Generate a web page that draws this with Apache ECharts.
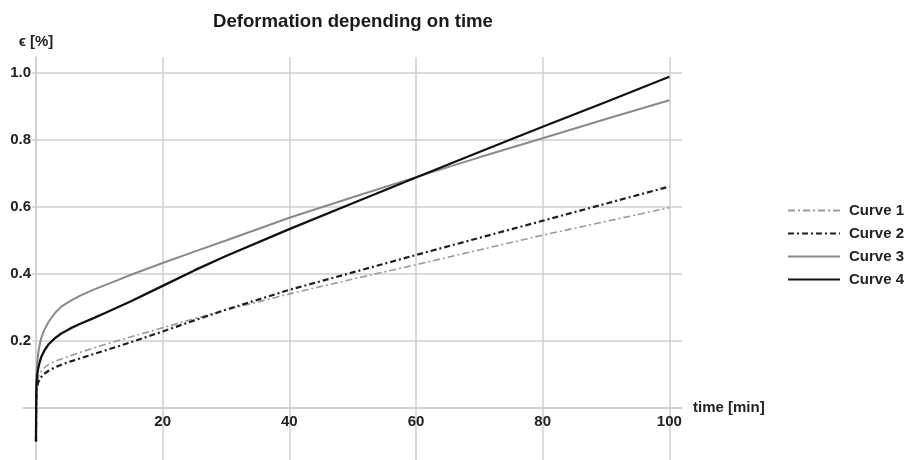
<!DOCTYPE html>
<html>
<head>
<meta charset="utf-8">
<script src="https://cdn.jsdelivr.net/npm/echarts@6/dist/echarts.min.js"></script>
<style>html,body{margin:0;padding:0;background:#fff}#c{width:910px;height:460px}</style>
</head>
<body>
<div id="c"></div>
<script>
// ---- data ----
const seriesNames = ['Curve 1', 'Curve 2', 'Curve 3', 'Curve 4'];

const t1 = [0, 0.03, 0.1, 0.3, 0.6, 1, 1.5, 2, 3, 4, 5.5, 7, 9, 11, 13, 15, 20, 25, 30, 40, 50, 60, 70, 80, 90, 100];
const curve1 = [-0.10, 0.02, 0.065, 0.09, 0.103, 0.114, 0.123, 0.13, 0.139, 0.146, 0.156, 0.166, 0.178, 0.19, 0.201, 0.212, 0.239, 0.266, 0.292, 0.34, 0.384, 0.427, 0.471, 0.515, 0.556, 0.597];

const t2 = [0, 0.03, 0.1, 0.3, 0.7, 1.3, 2, 3, 4, 5.5, 7, 9, 11, 13, 15, 20, 25, 30, 40, 50, 60, 70, 80, 90, 100];
const curve2 = [-0.10, 0.0, 0.05, 0.074, 0.09, 0.102, 0.111, 0.121, 0.129, 0.139, 0.148, 0.16, 0.172, 0.184, 0.196, 0.228, 0.261, 0.293, 0.352, 0.404, 0.456, 0.507, 0.558, 0.609, 0.66];

const t3 = [0, 0.02, 0.05, 0.1, 0.2, 0.35, 0.6, 0.9, 1.3, 2, 3, 4, 5.5, 7, 9, 11, 13, 15, 20, 25, 30, 40, 50, 60, 70, 80, 90, 100];
const curve3 = [-0.10, -0.01, 0.06, 0.1, 0.135, 0.162, 0.19, 0.212, 0.232, 0.257, 0.283, 0.302, 0.32, 0.335, 0.352, 0.367, 0.382, 0.397, 0.432, 0.466, 0.499, 0.567, 0.628, 0.688, 0.747, 0.804, 0.861, 0.917];

const t4 = [0, 0.02, 0.05, 0.1, 0.2, 0.35, 0.6, 0.9, 1.3, 2, 3, 4, 5.5, 7, 9, 11, 13, 15, 20, 25, 30, 40, 50, 60, 70, 80, 90, 100];
const curve4 = [-0.10, -0.02, 0.05, 0.075, 0.1, 0.118, 0.138, 0.155, 0.17, 0.19, 0.208, 0.222, 0.238, 0.251, 0.267, 0.284, 0.301, 0.318, 0.364, 0.41, 0.453, 0.533, 0.61, 0.687, 0.763, 0.838, 0.912, 0.987];

const xGridValues = [0, 20, 40, 60, 80, 100];
const xLabelValues = [20, 40, 60, 80, 100];
const yGridValues = [0, 0.2, 0.4, 0.6, 0.8, 1.0];
const yLabelValues = [0.2, 0.4, 0.6, 0.8, 1.0];

const titleText = 'Deformation depending on time';
const xName = 'time [min]';
const yName = '\u03f5 [%]';

// ---- chart ----
const FONT = "'Liberation Sans', Arial, Helvetica, sans-serif";
const pairs = (ts, vs) => ts.map((t, i) => [t, vs[i]]);
const gridStyle = { color: '#cfcfcf', width: 1.5 };

const styles = [
  { color: '#9a9a9a', width: 1.6, type: [7, 3, 2, 3] },
  { color: '#1e1e1e', width: 2.2, type: [6, 3, 2, 3] },
  { color: '#8a8a8a', width: 2, type: 'solid' },
  { color: '#111111', width: 2.3, type: 'solid' }
];
const tData = [t1, t2, t3, t4];
const vData = [curve1, curve2, curve3, curve4];

const chart = echarts.init(document.getElementById('c'), null, { renderer: 'canvas' });
chart.setOption({
  animation: false,
  backgroundColor: '#ffffff',
  title: {
    text: titleText,
    left: 213, top: 12, padding: 0,
    textStyle: { fontFamily: FONT, fontWeight: 'bold', fontSize: 18.6, color: '#1a1a1a' }
  },
  legend: {
    orient: 'vertical',
    left: 787, top: 203, padding: 0,
    itemWidth: 52, itemHeight: 14, itemGap: 8,
    itemStyle: { opacity: 0 },
    data: seriesNames,
    textStyle: { fontFamily: FONT, fontWeight: 'bold', fontSize: 15, color: '#222', padding: [0, 0, 0, 4] }
  },
  grid: { left: 23, right: 228, top: 57, bottom: 0, containLabel: false, outerBoundsMode: 'none' },
  xAxis: {
    type: 'value', min: -2.05, max: 102,
    position: 'bottom', offset: -52,
    name: xName, nameLocation: 'end', nameGap: 11,
    nameTextStyle: { fontFamily: FONT, fontWeight: 'bold', fontSize: 15, color: '#222', verticalAlign: 'middle', align: 'left' },
    axisLine: { show: true, onZero: false, lineStyle: gridStyle },
    axisTick: { show: false, customValues: xGridValues },
    axisLabel: { customValues: xLabelValues, margin: 6, fontFamily: FONT, fontWeight: 'bold', fontSize: 15, color: '#222' },
    splitLine: { show: true, lineStyle: gridStyle }
  },
  yAxis: {
    type: 'value', min: -0.155, max: 1.046,
    position: 'left', offset: -13,
    name: yName, nameLocation: 'end', nameGap: 8,
    nameTextStyle: { fontFamily: FONT, fontWeight: 'bold', fontSize: 15, color: '#222' },
    axisLine: { show: true, onZero: false, lineStyle: gridStyle },
    axisTick: { show: false, customValues: yGridValues },
    axisLabel: {
      customValues: yLabelValues, margin: 4,
      formatter: v => v.toFixed(1),
      fontFamily: FONT, fontWeight: 'bold', fontSize: 15, color: '#222',
      backgroundColor: '#ffffff', padding: [0, 1, 0, 1]
    },
    splitLine: { show: true, lineStyle: gridStyle }
  },
  series: seriesNames.map((n, i) => ({
    name: n,
    type: 'line',
    data: pairs(tData[i], vData[i]),
    showSymbol: false,
    symbol: 'none',
    smooth: false,
    lineStyle: { color: styles[i].color, width: styles[i].width, type: styles[i].type },
    itemStyle: { color: styles[i].color },
    z: 2 + i
  }))
});
</script>
</body>
</html>
